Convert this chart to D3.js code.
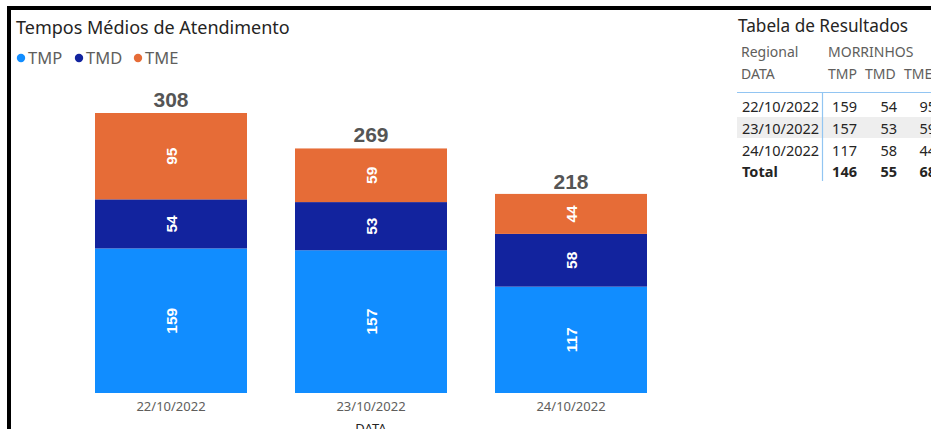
<!DOCTYPE html>
<html>
<head>
<meta charset="utf-8">
<script src="https://cdn.jsdelivr.net/npm/d3@7"></script>
<style>
  html, body { margin: 0; padding: 0; background: #fff; overflow: hidden; }
  svg { display: block; }
</style>
</head>
<body>
<svg id="chart" width="931" height="429"></svg>
<script>
// ---- Data ----
const dates = ["22/10/2022", "23/10/2022", "24/10/2022"];
const seriesNames = ["TMP", "TMD", "TME"];
const tmp = [159, 157, 117];
const tmd = [54, 53, 58];
const tme = [95, 59, 44];
const barTotals = [308, 269, 218];
const totals = [146, 55, 68];
const regional = "MORRINHOS";

const colors = { TMP: "#118DFF", TMD: "#12239E", TME: "#E66C37" };
const seriesVals = { TMP: tmp, TMD: tmd, TME: tme };

const svg = d3.select("#chart");
const FONT = "'Noto Sans', 'Open Sans', sans-serif";
const NUMFONT = "'Liberation Sans', Arial, sans-serif";

// ---- Build stacked data ----
const rows = dates.map((d, i) => ({ date: d, TMP: tmp[i], TMD: tmd[i], TME: tme[i] }));
const stack = d3.stack().keys(seriesNames)(rows);

// ---- Scales ----
const x = d3.scaleBand().domain(dates).range([71, 671]).paddingInner(0.24).paddingOuter(0.12);
const y = d3.scaleLinear().domain([0, d3.max(barTotals)]).range([393, 113]);

// ---- Title ----
svg.append("text").attr("x", 16).attr("y", 34)
  .attr("font-family", FONT).attr("font-size", 18).attr("fill", "#252423")
  .text("Tempos Médios de Atendimento");

// ---- Legend ----
const legendX = [21, 79, 138];
seriesNames.forEach((s, i) => {
  svg.append("circle").attr("cx", legendX[i]).attr("cy", 58).attr("r", 4.2).attr("fill", colors[s]);
  svg.append("text").attr("x", legendX[i] + 7).attr("y", 64)
    .attr("font-family", FONT).attr("font-size", 16.5).attr("fill", "#605E5C").text(s);
});

// ---- Bars ----
const g = svg.append("g");
stack.forEach(layer => {
  g.selectAll(null).data(layer).enter().append("rect")
    .attr("x", d => x(d.data.date))
    .attr("width", x.bandwidth())
    .attr("y", d => y(d[1]))
    .attr("height", d => y(d[0]) - y(d[1]))
    .attr("fill", colors[layer.key]);
  g.selectAll(null).data(layer).enter().append("text")
    .attr("transform", d => `translate(${x(d.data.date) + x.bandwidth() / 2},${(y(d[0]) + y(d[1])) / 2}) rotate(-90)`)
    .attr("text-anchor", "middle").attr("dominant-baseline", "central")
    .attr("font-family", NUMFONT).attr("font-weight", "bold").attr("font-size", 15.5)
    .attr("fill", "#fff")
    .text(d => d.data[layer.key]);
});

// Totals above bars
g.selectAll(null).data(rows).enter().append("text")
  .attr("x", (d) => x(d.date) + x.bandwidth() / 2)
  .attr("y", (d, i) => y(barTotals[i]) - 6)
  .attr("text-anchor", "middle")
  .attr("font-family", NUMFONT).attr("font-weight", "bold").attr("font-size", 21)
  .attr("fill", "#555")
  .text((d, i) => barTotals[i]);

// ---- X axis ----
const xAxis = svg.append("g").attr("transform", "translate(0,393)")
  .call(d3.axisBottom(x).tickSize(0).tickPadding(9));
xAxis.select(".domain").remove();
xAxis.selectAll("text").attr("font-family", FONT).attr("font-size", 13).attr("fill", "#605E5C");

svg.append("text").attr("x", x(dates[1]) + x.bandwidth() / 2).attr("y", 433)
  .attr("text-anchor", "middle").attr("font-family", FONT).attr("font-size", 13)
  .attr("fill", "#252423").text("DATA");

// ---- Table ----
const T = svg.append("g").attr("font-family", FONT).attr("fill", "#252423");
T.append("text").attr("x", 738).attr("y", 32).attr("font-size", 17.2).text("Tabela de Resultados");
T.append("text").attr("x", 741).attr("y", 57).attr("font-size", 14).attr("fill", "#605E5C").text("Regional");
T.append("text").attr("x", 828).attr("y", 57).attr("font-size", 14).attr("fill", "#605E5C").text(regional);
T.append("text").attr("x", 741).attr("y", 79).attr("font-size", 14).attr("fill", "#605E5C").text("DATA");
const colRight = [857, 897, 936];
const hdrLeft = [828, 865, 904];
seriesNames.forEach((s, i) => {
  T.append("text").attr("x", hdrLeft[i]).attr("y", 79).attr("font-size", 14).attr("fill", "#605E5C").text(s);
});
// row backgrounds
const rowBase = [112, 134, 156];
T.append("rect").attr("x", 737).attr("y", 117).attr("width", 200).attr("height", 21).attr("fill", "#eeeeee");
// lines
T.append("line").attr("x1", 737).attr("x2", 931).attr("y1", 92.5).attr("y2", 92.5).attr("stroke", "#92c5f2").attr("stroke-width", 1.2);
T.append("line").attr("x1", 822.5).attr("x2", 822.5).attr("y1", 93).attr("y2", 181).attr("stroke", "#92c5f2").attr("stroke-width", 1.2);
dates.forEach((d, r) => {
  T.append("text").attr("x", 742).attr("y", rowBase[r]).attr("font-size", 14.5).text(d);
  seriesNames.forEach((s, i) => {
    T.append("text").attr("x", colRight[i]).attr("y", rowBase[r]).attr("text-anchor", "end")
      .attr("font-size", 14.5).text(seriesVals[s][r]);
  });
});
T.append("text").attr("x", 742).attr("y", 177).attr("font-size", 14.5).attr("font-weight", "bold").text("Total");
totals.forEach((v, i) => {
  T.append("text").attr("x", colRight[i]).attr("y", 177).attr("text-anchor", "end")
    .attr("font-size", 14.5).attr("font-weight", "bold").text(v);
});

// ---- Black frame ----
svg.append("rect").attr("x", 9).attr("y", 8).attr("width", 1000).attr("height", 1000)
  .attr("fill", "none").attr("stroke", "#000").attr("stroke-width", 4);
</script>
</body>
</html>
